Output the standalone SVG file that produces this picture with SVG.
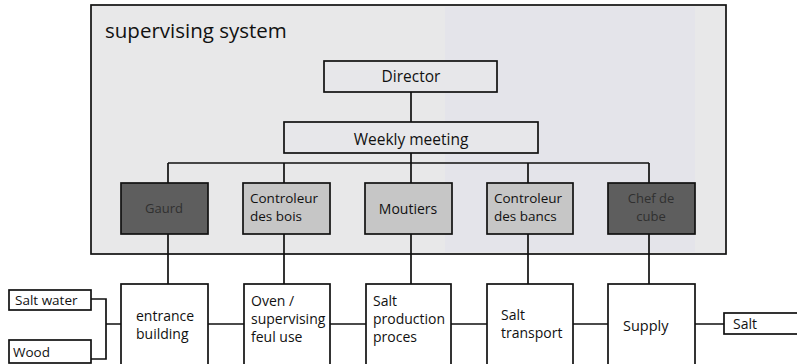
<svg xmlns="http://www.w3.org/2000/svg" width="797" height="364" viewBox="0 0 797 364">
<style>
.box{stroke:#111;stroke-width:1.7}
.w{fill:#fff}
.lg{fill:#c6c6c6}
.dg{fill:#5e5e5e}
.t{font-family:"Open Sans","Liberation Sans",sans-serif;fill:#111}
.dt{fill:#303030}
.c{fill:none;stroke:#111;stroke-width:1.7}
</style>
<rect width="797" height="364" fill="#fff"/>
<g id="supervising-system">
<rect x="91" y="5" width="635" height="249" fill="#e8e8e9" stroke="#111" stroke-width="1.7"/>
<rect x="445" y="7" width="250" height="245" fill="#e0e0ea" opacity="0.45"/>
<text class="t" x="105" y="38" font-size="20.5">supervising system</text>
</g>
<g id="connectors">
<path class="c" d="M411 92V122M411 153V163M168 163H649M168 163V284M284 163V284M411 163V284M528 163V284M649 163V284"/>
<path class="c" d="M91 299H106V359H91M106 324H121M208 324H244M330 324H366M451 324H487M573 324H608M695 324H724"/>
</g>
<g id="director"><rect class="box" x="324" y="61" width="173" height="31" fill="#e7e7ea"/><text class="t" x="411" y="82" font-size="15.5" text-anchor="middle">Director</text></g>
<g id="weekly-meeting"><rect class="box" x="284" y="122" width="254" height="31" fill="#e7e7ea"/><text class="t" x="411" y="145" font-size="15.5" text-anchor="middle">Weekly meeting</text></g>
<g id="gaurd"><rect class="box dg" x="121" y="183" width="87" height="51"/><text class="t dt" x="164" y="213" font-size="13" text-anchor="middle">Gaurd</text></g>
<g id="controleur-bois"><rect class="box lg" x="243" y="183" width="87" height="51"/><text class="t" x="250" y="203" font-size="13.5">Controleur</text><text class="t" x="250" y="221" font-size="13.5">des bois</text></g>
<g id="moutiers"><rect class="box lg" x="365" y="183" width="87" height="51"/><text class="t" x="408" y="214" font-size="14" text-anchor="middle">Moutiers</text></g>
<g id="controleur-bancs"><rect class="box lg" x="487" y="183" width="86" height="51"/><text class="t" x="494" y="203" font-size="13.5">Controleur</text><text class="t" x="494" y="221" font-size="13.5">des bancs</text></g>
<g id="chef-de-cube"><rect class="box dg" x="608" y="183" width="87" height="51"/><text class="t dt" x="651" y="203" font-size="13" text-anchor="middle">Chef de</text><text class="t dt" x="651" y="221" font-size="13" text-anchor="middle">cube</text></g>
<g id="salt-water"><rect class="box w" x="9" y="290" width="82" height="20"/><text class="t" x="15" y="305" font-size="13.5">Salt water</text></g>
<g id="wood"><rect class="box w" x="9" y="340" width="82" height="23"/><text class="t" x="13" y="357" font-size="13.5">Wood</text></g>
<g id="entrance-building"><rect class="box w" x="121" y="284" width="87" height="90"/><text class="t" x="136" y="321" font-size="14">entrance</text><text class="t" x="136" y="339" font-size="14">building</text></g>
<g id="oven"><rect class="box w" x="244" y="284" width="86" height="90"/><text class="t" x="251" y="306" font-size="14">Oven /</text><text class="t" x="251" y="324" font-size="14">supervising</text><text class="t" x="251" y="342" font-size="14">feul use</text></g>
<g id="salt-production"><rect class="box w" x="366" y="284" width="85" height="90"/><text class="t" x="373" y="306" font-size="14">Salt</text><text class="t" x="373" y="324" font-size="14">production</text><text class="t" x="373" y="342" font-size="14">proces</text></g>
<g id="salt-transport"><rect class="box w" x="487" y="284" width="86" height="90"/><text class="t" x="501" y="320" font-size="14">Salt</text><text class="t" x="501" y="338" font-size="14">transport</text></g>
<g id="supply"><rect class="box w" x="608" y="284" width="87" height="90"/><text class="t" x="623" y="331" font-size="14.5">Supply</text></g>
<g id="salt"><rect class="box w" x="724" y="313" width="80" height="21"/><text class="t" x="733" y="329" font-size="14">Salt</text></g>
</svg>
